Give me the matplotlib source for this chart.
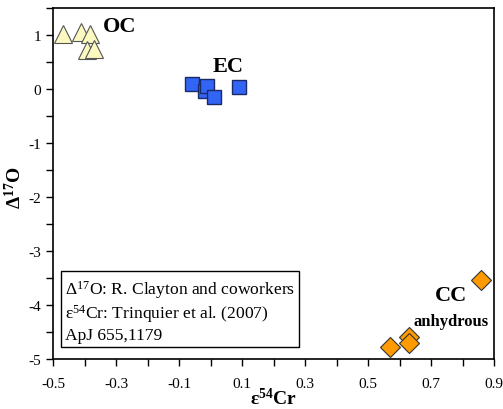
import matplotlib
matplotlib.use("AGG")
from matplotlib import pyplot
from matplotlib.ticker import MultipleLocator

# values
oc_x = [-0.467, -0.412, -0.383, -0.391, -0.369]
oc_y = [1.02, 1.05, 1.02, 0.73, 0.74]
ec_x = [-0.060, -0.017, -0.010, 0.011, 0.090]
ec_y = [0.09, -0.03, 0.06, -0.15, 0.03]
cc_x = [0.858, 0.630, 0.630, 0.570]
cc_y = [-3.54, -4.60, -4.70, -4.78]

x_ticks = [-0.5, -0.3, -0.1, 0.1, 0.3, 0.5, 0.7, 0.9]
y_ticks = [1, 0, -1, -2, -3, -4, -5]

pyplot.rcParams["font.family"] = ["Liberation Serif", "DejaVu Serif"]
pyplot.rcParams["mathtext.fontset"] = "custom"
pyplot.rcParams["mathtext.rm"] = "Liberation Serif"
pyplot.rcParams["mathtext.bf"] = "Liberation Serif:bold"
pyplot.rcParams["mathtext.default"] = "regular"
pyplot.rcParams["axes.unicode_minus"] = False

f = pyplot.figure(figsize=(5.03, 4.10), dpi=100)
ax = f.add_axes([53 / 503, 1 - 360 / 410, 441 / 503, 351 / 410])

ax.plot(oc_x, oc_y, "^", ms=13, mfc="#fbf8c0", mec="#555555", mew=0.8, zorder=3)
ax.plot(ec_x, ec_y, "s", ms=10, mfc="#3264f5", mec="#1a2a66", mew=1.0, zorder=3)
ax.plot(cc_x, cc_y, "D", ms=10, mfc="#ff9a00", mec="#333333", mew=0.8, zorder=3)

ax.set_xlim(-0.5, 0.9)
ax.set_ylim(-5, 1.5)
ax.set_xticks(x_ticks)
ax.set_xticklabels([("%.1f" % v) for v in x_ticks])
ax.set_yticks(y_ticks)
ax.xaxis.set_minor_locator(MultipleLocator(0.1))
ax.yaxis.set_minor_locator(MultipleLocator(0.5))
ax.tick_params(which="both", direction="out", length=5, width=1, labelsize=11,
               top=False, right=False)
ax.tick_params(axis="x", pad=8)
for s in ax.spines.values():
    s.set_linewidth(1.2)

ax.set_xlabel("ε$^{54}$Cr", fontsize=14, fontweight="bold")
ax.xaxis.set_label_coords(0.50, -0.08)
ax.set_ylabel("Δ$^{17}$O", fontsize=14, fontweight="bold")
ax.yaxis.set_label_coords(-0.063, 0.49)

ax.text(-0.287, 1.17, "OC", fontsize=16, fontweight="bold", ha="center", va="center")
ax.text(0.056, 0.42, "EC", fontsize=16, fontweight="bold", ha="center", va="center")
ax.text(0.762, -3.82, "CC", fontsize=16, fontweight="bold", ha="center", va="center")
ax.text(0.763, -4.30, "anhydrous", fontsize=12, fontweight="bold", ha="center", va="center")

ax.text(0.027, 0.047,
        "Δ$^{17}$O: R. Clayton and coworkers\nε$^{54}$Cr: Trinquier et al. (2007)\nApJ 655,1179",
        transform=ax.transAxes, fontsize=12.6, linespacing=1.18, ha="left", va="bottom",
        bbox=dict(boxstyle="square,pad=0.25", fc="white", ec="black", lw=1))

f.savefig("out.png", dpi=100)
pyplot.close()
